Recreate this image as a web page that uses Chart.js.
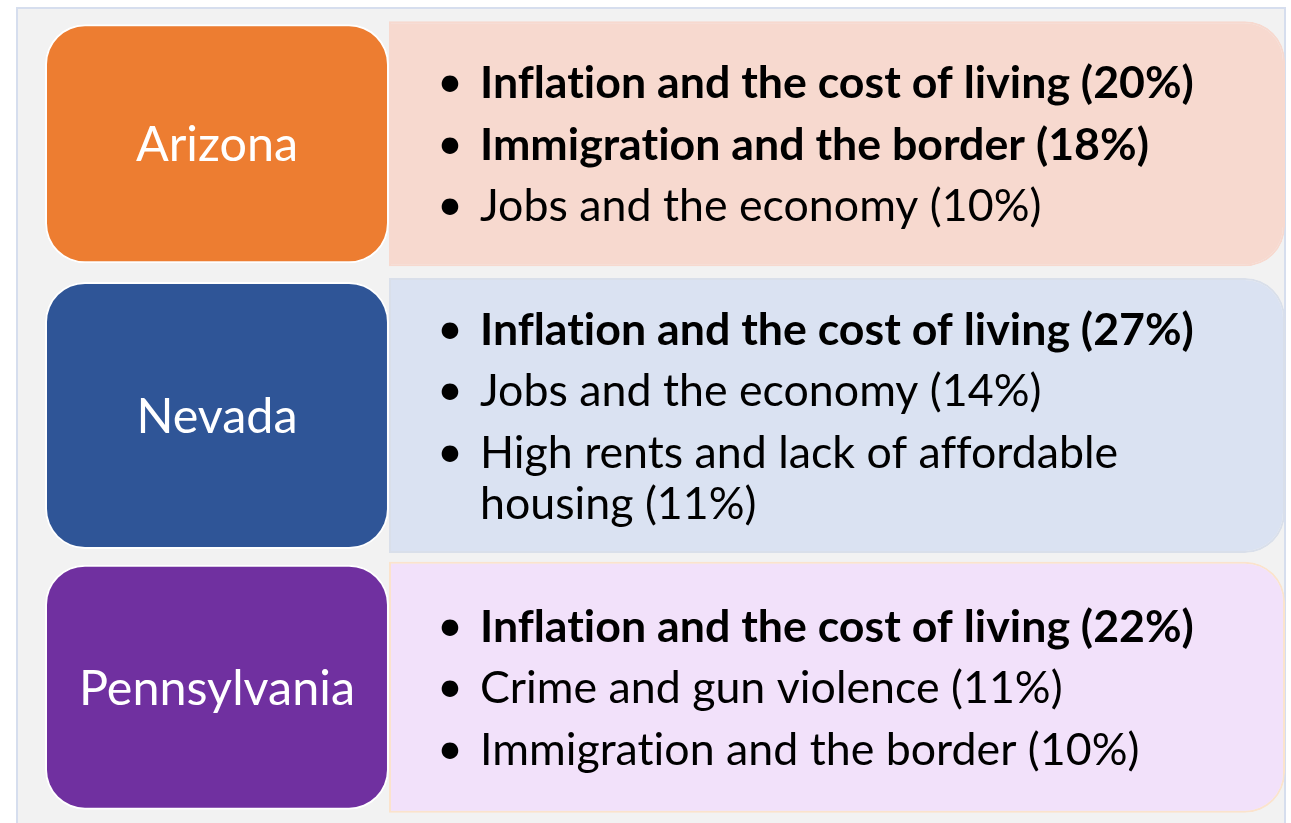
<!DOCTYPE html>
<html>
<head>
<meta charset="utf-8">
<script src="https://cdn.jsdelivr.net/npm/chart.js@4.4.1/dist/chart.umd.min.js"></script>
<style>
  html, body { margin: 0; padding: 0; background: #ffffff; }
  #wrap { position: relative; width: 1291px; height: 823px; overflow: hidden; }
  #panel { position: absolute; left: 16px; top: 7px; width: 1266px; height: 840px; background: #f2f2f2; border: 2px solid #d6deee; }
  #board { position: absolute; left: 0; top: 0; }
</style>
</head>
<body>
<div id="wrap">
  <div id="panel"></div>
  <canvas id="board" width="1291" height="823"></canvas>
</div>
<script>
// States (rows)
const states = ["Arizona", "Nevada", "Pennsylvania"];

// Top issues per state, share of voters naming it (%)
const arizonaIssues = ["Inflation and the cost of living", "Immigration and the border", "Jobs and the economy"];
const arizonaShares = [20, 18, 10];
const arizonaBold = [true, true, false];

const nevadaIssues = ["Inflation and the cost of living", "Jobs and the economy", "High rents and lack of affordable housing"];
const nevadaShares = [27, 14, 11];
const nevadaBold = [true, false, false];

const pennIssues = ["Inflation and the cost of living", "Crime and gun violence", "Immigration and the border"];
const pennShares = [22, 11, 10];
const pennBold = [true, false, false];

const issues = [arizonaIssues, nevadaIssues, pennIssues];
const shares = [arizonaShares, nevadaShares, pennShares];
const bolds = [arizonaBold, nevadaBold, pennBold];

// styling
const stateColors = ["#ed7d31", "#2f5597", "#7030a0"];
const panelColors = ["#f7d9cf", "#dae2f2", "#f2e1fa"];
const panelBorders = ["#f7d9cf", "#d9dfea", "#fbe3cc"];
const labelFill = [0.88, 0.983, 0.902]; // share of the row band each box fills
const issueFill = [0.902, 1.012, 0.924];

const split = 27.74; // label column / issue column boundary on the hidden x scale
const family = "Lato, 'Open Sans', sans-serif";

const wrapText = (ctx, text, maxW) => {
  const words = text.split(" ");
  const lines = [];
  let cur = "";
  words.forEach((w) => {
    const test = cur ? cur + " " + w : w;
    if (cur && ctx.measureText(test).width > maxW) {
      lines.push(cur);
      cur = w;
    } else {
      cur = test;
    }
  });
  if (cur) lines.push(cur);
  return lines;
};

const boxText = {
  id: "boxText",
  afterDatasetsDraw(chart) {
    const ctx = chart.ctx;
    ctx.save();
    ctx.letterSpacing = "0.01px"; // no "ti" ligature

    // font sizes fitted to the widest lines
    ctx.font = "bold 100px " + family;
    const bodySize = 100 * 714 / ctx.measureText(issues[0][0] + " (" + shares[0][0] + "%)").width;
    ctx.font = "100px " + family;
    const stateSize = 100 * 276 / ctx.measureText("Pennsylvania").width;

    // state labels
    ctx.font = stateSize + "px " + family;
    const stateCap = ctx.measureText("H").actualBoundingBoxAscent;
    ctx.fillStyle = "#ffffff";
    ctx.textAlign = "center";
    states.forEach((s, i) => {
      const el = chart.getDatasetMeta(i).data[i];
      ctx.fillText(s, (el.x + el.base) / 2, el.y + stateCap / 2);
    });

    // issue bullets
    ctx.fillStyle = "#000000";
    states.forEach((s, i) => {
      const el = chart.getDatasetMeta(states.length + i).data[i];
      const left = Math.min(el.x, el.base);
      const right = Math.max(el.x, el.base);
      const textX = left + 91;
      const rows = [];
      let y = 0;
      issues[i].forEach((issue, j) => {
        ctx.font = (bolds[i][j] ? "bold " : "") + bodySize + "px " + family;
        const lines = wrapText(ctx, issue + " (" + shares[i][j] + "%)", right - textX - 40);
        if (j > 0) y += 61.5;
        lines.forEach((ln, k) => {
          if (k > 0) y += 51;
          rows.push({ text: ln, bold: bolds[i][j], y, bullet: k === 0 });
        });
      });
      const offset = el.y - y / 2;
      rows.forEach((r) => {
        ctx.font = (r.bold ? "bold " : "") + bodySize + "px " + family;
        const cap = ctx.measureText("H").actualBoundingBoxAscent;
        const base = offset + r.y + cap / 2;
        ctx.textAlign = "left";
        ctx.fillText(r.text, textX, base);
        if (r.bullet) {
          ctx.font = bodySize + "px " + family;
          ctx.textAlign = "center";
          ctx.fillText("\u2022", left + 61, base - 1);
        }
      });
    });
    ctx.restore();
  },
};

// one dataset per box so each row keeps its own height
const labelSets = states.map((s, i) => ({
  label: s,
  data: states.map((t, k) => (k === i ? [0, split] : null)),
  backgroundColor: stateColors[i],
  borderColor: "#ffffff",
  borderWidth: 2,
  borderSkipped: false,
  borderRadius: 40,
  barPercentage: labelFill[i],
  categoryPercentage: 1,
  grouped: false,
  order: 0,
}));

const issueSets = states.map((s, i) => ({
  label: s + " issues",
  data: states.map((t, k) => (k === i ? [split, 100] : null)),
  backgroundColor: panelColors[i],
  borderColor: panelBorders[i],
  borderWidth: 2,
  borderSkipped: false,
  borderRadius: { topLeft: 0, bottomLeft: 0, topRight: 40, bottomRight: 40 },
  barPercentage: issueFill[i],
  categoryPercentage: 1,
  grouped: false,
  order: 1,
}));

new Chart(document.getElementById("board").getContext("2d"), {
  type: "bar",
  data: {
    labels: states,
    datasets: [...labelSets, ...issueSets],
  },
  options: {
    indexAxis: "y",
    responsive: false,
    animation: false,
    layout: { padding: { left: 45, right: 6, top: 8, bottom: 0 } },
    scales: {
      x: { type: "linear", min: 0, max: 100, display: false },
      y: { display: false, offset: true },
    },
    plugins: {
      legend: { display: false },
      tooltip: { enabled: false },
    },
  },
  plugins: [boxText],
});
</script>
</body>
</html>
